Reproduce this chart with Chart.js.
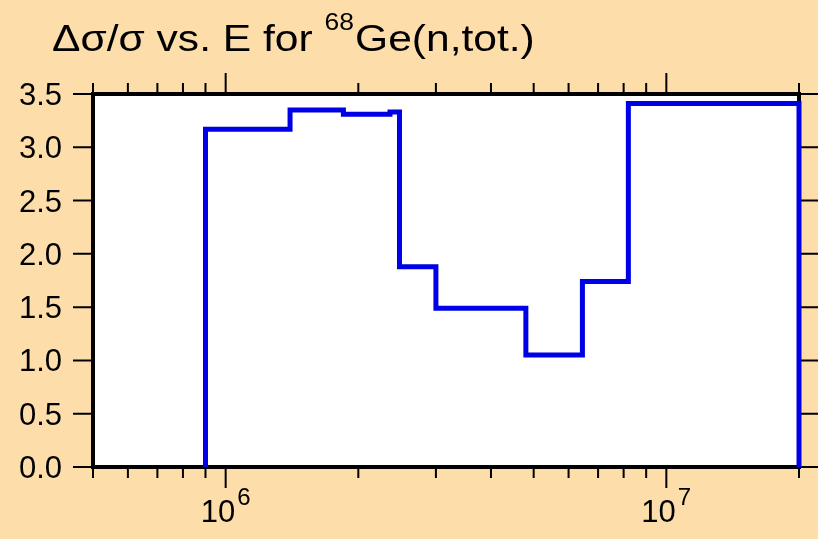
<!DOCTYPE html>
<html lang="en">
<head>
    <meta charset="UTF-8">
    <title>Δσ/σ vs. E for 68Ge(n,tot.)</title>
    <style>
        body {
            margin: 0;
            background-color: #fddeab;
        }
        canvas {
            display: block;
        }
    </style>
</head>
<body>
<canvas id="chart" width="818" height="539"></canvas>

<script src="https://cdn.jsdelivr.net/npm/chart.js@4"></script>
<script>
    // energy bin edges (eV) and relative uncertainty in each bin
    const binEdges = [9.0e5, 1.4e6, 1.85e6, 2.36e6, 2.48e6, 3.0e6, 4.8e6, 6.45e6, 8.2e6, 2.0e7];
    const binValues = [3.17, 3.35, 3.31, 3.33, 1.88, 1.49, 1.05, 1.74, 3.41];

    // axis ticks
    const yTicks = [0, 0.5, 1.0, 1.5, 2.0, 2.5, 3.0, 3.5];
    const yTickLabels = ['0.0', '0.5', '1.0', '1.5', '2.0', '2.5', '3.0', '3.5'];
    const xMajorTicks = [1e6, 1e7];
    const xMajorLabels = [['10', '6'], ['10', '7']];
    const xMinorTicks = [5e5, 6e5, 7e5, 8e5, 9e5, 2e6, 3e6, 4e6, 5e6, 6e6, 7e6, 8e6, 9e6, 2e7];

    const BG = '#fddeab';
    const FONT = '"Liberation Sans", Arial, sans-serif';

    // histogram outline: rise at first edge, steps, drop at last edge
    const points = [{x: binEdges[0], y: 0}];
    binValues.forEach((v, i) => points.push({x: binEdges[i], y: v}));
    points.push({x: binEdges[binEdges.length - 1], y: binValues[binValues.length - 1]});
    points.push({x: binEdges[binEdges.length - 1], y: 0});

    const framePlugin = {
        id: 'frame',
        beforeDraw(chart) {
            const {ctx, chartArea: a} = chart;
            ctx.save();
            ctx.fillStyle = BG;
            ctx.fillRect(0, 0, chart.width, chart.height);
            ctx.fillStyle = '#ffffff';
            ctx.fillRect(a.left, a.top, a.right - a.left, a.bottom - a.top);
            ctx.restore();
        },
        beforeDatasetsDraw(chart) {
            const {ctx, chartArea: a} = chart;
            const xs = chart.scales.x, ys = chart.scales.y;
            ctx.save();
            ctx.strokeStyle = '#000';
            ctx.fillStyle = '#000';

            // tick marks
            ctx.lineWidth = 2;
            ctx.beginPath();
            yTicks.forEach(v => {
                const py = ys.getPixelForValue(v);
                ctx.moveTo(a.left - 20, py); ctx.lineTo(a.left, py);
                ctx.moveTo(a.right, py); ctx.lineTo(a.right + 20, py);
            });
            xMinorTicks.forEach(v => {
                const px = xs.getPixelForValue(v);
                ctx.moveTo(px, a.bottom); ctx.lineTo(px, a.bottom + 11);
                ctx.moveTo(px, a.top); ctx.lineTo(px, a.top - 11);
            });
            xMajorTicks.forEach(v => {
                const px = xs.getPixelForValue(v);
                ctx.moveTo(px, a.bottom); ctx.lineTo(px, a.bottom + 21);
                ctx.moveTo(px, a.top); ctx.lineTo(px, a.top - 21);
            });
            ctx.stroke();

            // frame
            ctx.lineWidth = 4;
            ctx.strokeRect(a.left, a.top, a.right - a.left, a.bottom - a.top);

            // y tick labels
            ctx.font = '31px ' + FONT;
            ctx.textAlign = 'right';
            ctx.textBaseline = 'alphabetic';
            yTicks.forEach((v, i) => {
                ctx.fillText(yTickLabels[i], 62, ys.getPixelForValue(v) + 11);
            });

            // x tick labels (10 with exponent)
            xMajorTicks.forEach((v, i) => {
                const px = xs.getPixelForValue(v);
                ctx.textAlign = 'left';
                ctx.font = '31px ' + FONT;
                const w = ctx.measureText(xMajorLabels[i][0]).width;
                ctx.fillText(xMajorLabels[i][0], px - 25, a.bottom + 55);
                ctx.font = '24px ' + FONT;
                ctx.fillText(xMajorLabels[i][1], px - 25 + w + 2, a.bottom + 38);
            });

            // title with superscript mass number
            const sx = 1.15;
            ctx.save();
            ctx.translate(52, 51);
            ctx.scale(sx, 1);
            ctx.textAlign = 'left';
            ctx.font = '37px ' + FONT;
            const t1 = 'Δσ/σ vs. E for ';
            let x = 0;
            ctx.fillText(t1, x, 0);
            x += ctx.measureText(t1).width;
            ctx.font = '23px ' + FONT;
            ctx.fillText('68', x, -21);
            x += ctx.measureText('68').width + 1;
            ctx.font = '37px ' + FONT;
            ctx.fillText('Ge(n,tot.)', x, 0);
            ctx.restore();

            ctx.restore();
        }
    };

    new Chart(document.getElementById('chart').getContext('2d'), {
        type: 'line',
        data: {
            datasets: [{
                label: 'Δσ/σ',
                data: points,
                stepped: 'before',
                borderColor: '#0000e6',
                borderWidth: 5,
                pointRadius: 0,
                fill: false,
                tension: 0,
                clip: 4
            }]
        },
        options: {
            responsive: false,
            animation: false,
            layout: {
                padding: {left: 93, right: 19, top: 94, bottom: 72}
            },
            scales: {
                x: {
                    type: 'logarithmic',
                    min: 5e5,
                    max: 2e7,
                    display: false
                },
                y: {
                    type: 'linear',
                    min: 0,
                    max: 3.5,
                    display: false
                }
            },
            plugins: {
                legend: {display: false},
                tooltip: {enabled: false}
            }
        },
        plugins: [framePlugin]
    });
</script>
</body>
</html>
